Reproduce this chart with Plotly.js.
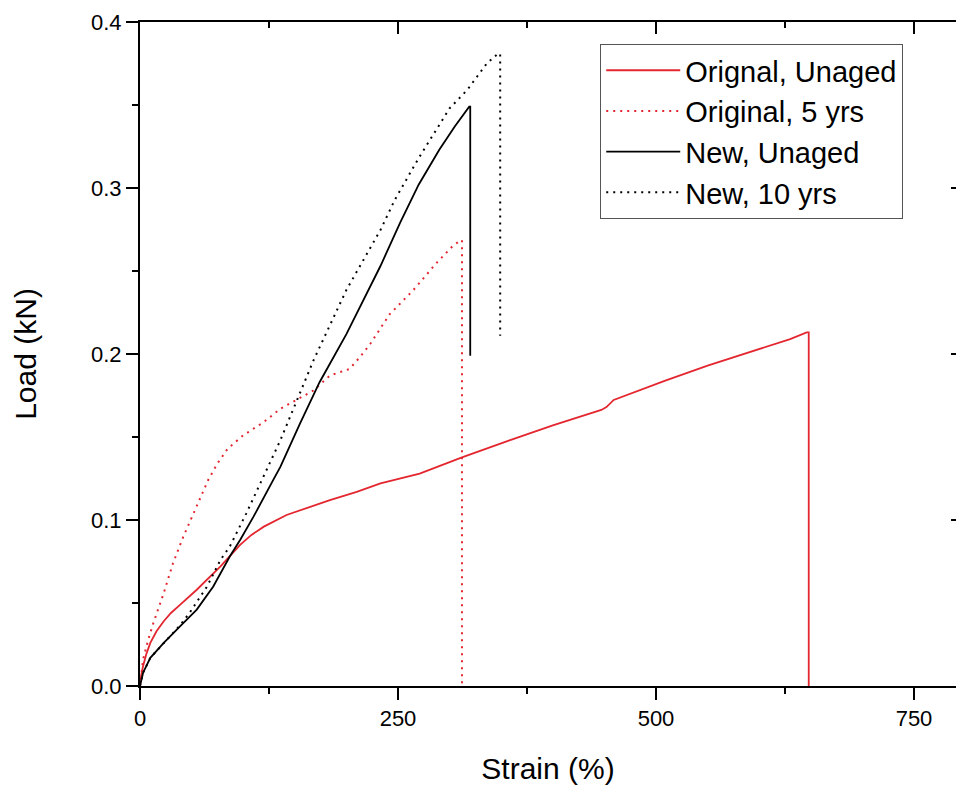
<!DOCTYPE html>
<html>
<head>
<meta charset="utf-8">
<script src="https://cdn.plot.ly/plotly-3.0.1.min.js"></script>
<style>html,body{margin:0;padding:0;background:#fff;}#chart{width:956px;height:787px;}</style>
</head>
<body>
<div id="chart"></div>
<script>
// Original, Unaged
const origUnagedX = [0, 1, 3, 6, 10, 16, 23, 30, 39, 55, 78, 97, 108, 120, 142, 165, 184, 210, 233, 271, 312, 358, 400, 447, 452, 459, 509, 550, 600, 630, 646, 648, 648];
const origUnagedY = [0, 0.006, 0.012, 0.019, 0.026, 0.033, 0.039, 0.044, 0.049, 0.058, 0.072, 0.085, 0.091, 0.096, 0.103, 0.108, 0.112, 0.117, 0.122, 0.128, 0.1377, 0.148, 0.157, 0.1663, 0.168, 0.1723, 0.184, 0.193, 0.203, 0.209, 0.213, 0.213, 0];
// Original, 5 yrs
const orig5X = [0, 3, 8, 13, 23, 32, 42, 55, 66, 75, 85, 100, 120, 136, 148, 168, 184, 203, 213, 223, 242, 265, 287, 304, 312, 312];
const orig5Y = [0, 0.016, 0.028, 0.038, 0.056, 0.074, 0.090, 0.108, 0.124, 0.134, 0.143, 0.151, 0.159, 0.167, 0.171, 0.178, 0.187, 0.191, 0.198, 0.206, 0.224, 0.2386, 0.2546, 0.2657, 0.2687, 0];
// New, Unaged
const newUnagedX = [0, 3, 10, 23, 39, 55, 71, 87, 97, 110, 129, 136, 155, 174, 200, 233, 252, 270, 290, 305, 319, 320, 320];
const newUnagedY = [0, 0.008, 0.017, 0.026, 0.036, 0.046, 0.060, 0.078, 0.088, 0.102, 0.124, 0.132, 0.158, 0.183, 0.212, 0.253, 0.279, 0.302, 0.323, 0.337, 0.349, 0.349, 0.199];
// New, 10 yrs
const new10X = [0, 3, 10, 23, 38, 48, 65, 78, 87, 103, 118, 136, 168, 200, 233, 247, 270, 300, 317, 336, 347, 349, 349];
const new10Y = [0, 0.008, 0.017, 0.026, 0.036, 0.044, 0.060, 0.076, 0.084, 0.104, 0.124, 0.148, 0.196, 0.2386, 0.2747, 0.293, 0.318, 0.348, 0.359, 0.375, 0.381, 0.381, 0.211];

const seriesNames = ['Orignal, Unaged', 'Original, 5 yrs', 'New, Unaged', 'New, 10 yrs'];
const xTicks = [0, 250, 500, 750];
const yTicks = [0.0, 0.1, 0.2, 0.3, 0.4];
const yTickText = ['0.0', '0.1', '0.2', '0.3', '0.4'];

const RED = '#e3262f';
const FONT = 'Liberation Sans, Arial, sans-serif';

const traces = [
  {x: origUnagedX, y: origUnagedY, name: seriesNames[0], mode: 'lines', line: {color: RED, width: 1.8}},
  {x: orig5X, y: orig5Y, name: seriesNames[1], mode: 'lines', line: {color: RED, width: 2, dash: '2px,5px'}},
  {x: newUnagedX, y: newUnagedY, name: seriesNames[2], mode: 'lines', line: {color: '#000', width: 1.8}},
  {x: new10X, y: new10Y, name: seriesNames[3], mode: 'lines', line: {color: '#000', width: 2, dash: '2px,5px'}}
];

const axBase = {
  showline: true, linecolor: '#000', linewidth: 2, zeroline: false, showgrid: false,
  tickcolor: '#000', tickwidth: 2, ticklen: 12,
  tickfont: {family: FONT, size: 22, color: '#000'}
};

const layout = {
  width: 956, height: 787,
  margin: {l: 140, r: 0, t: 22, b: 101},
  paper_bgcolor: '#fff', plot_bgcolor: '#fff',
  font: {family: FONT, color: '#000'},
  showlegend: true,
  legend: {
    x: 0.564, y: 0.967, xanchor: 'left', yanchor: 'top',
    bordercolor: '#555', borderwidth: 1, bgcolor: '#fff',
    font: {family: FONT, size: 29, color: '#000'},
    itemwidth: 74, tracegroupgap: 0
  },
  xaxis: Object.assign({}, axBase, {
    range: [0, 790.7], tickvals: xTicks, ticks: 'outside',
    minor: {ticks: 'outside', dtick: 125, tick0: 0, ticklen: 6, tickwidth: 2, tickcolor: '#000'},
    title: {text: 'Strain (%)', font: {family: FONT, size: 30, color: '#000'}, standoff: 28}
  }),
  yaxis: Object.assign({}, axBase, {
    range: [0, 0.4], tickvals: yTicks, ticktext: yTickText, ticks: 'outside',
    minor: {ticks: 'outside', dtick: 0.05, tick0: 0, ticklen: 6, tickwidth: 2, tickcolor: '#000'},
    title: {text: 'Load (kN)', font: {family: FONT, size: 30, color: '#000'}, standoff: 46}
  }),
  xaxis2: Object.assign({}, axBase, {
    overlaying: 'x', matches: 'x', side: 'top', anchor: 'y', range: [0, 790.7],
    tickvals: xTicks, ticks: 'inside', showticklabels: false,
    minor: {ticks: 'inside', dtick: 125, tick0: 0, ticklen: 6, tickwidth: 2, tickcolor: '#000'}
  }),
  yaxis2: Object.assign({}, axBase, {
    overlaying: 'y', matches: 'y', side: 'right', anchor: 'x', range: [0, 0.4],
    showline: false, tickvals: yTicks, ticks: 'inside', ticklen: 5, showticklabels: false
  })
};

// invisible anchor trace so the mirrored top/right axes are drawn
traces.push({x: [0], y: [0], xaxis: 'x2', yaxis: 'y2', mode: 'markers', marker: {opacity: 0}, showlegend: false, hoverinfo: 'skip'});

Plotly.newPlot('chart', traces, layout, {displayModeBar: false, staticPlot: true});
</script>
</body>
</html>
